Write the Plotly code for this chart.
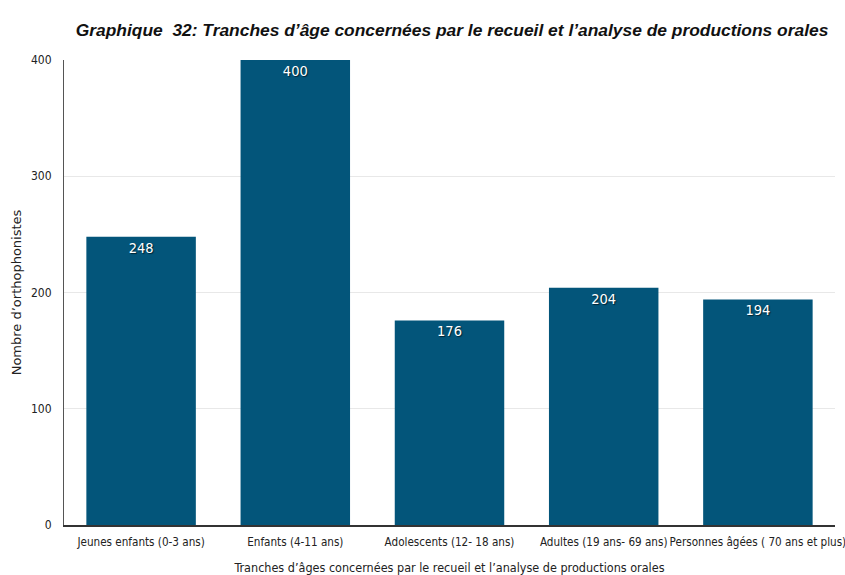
import plotly.graph_objects as go

categories = [
    "Jeunes enfants (0-3 ans)",
    "Enfants (4-11 ans)",
    "Adolescents (12- 18 ans)",
    "Adultes (19 ans- 69 ans)",
    "Personnes âgées ( 70 ans et plus)",
]
values = [248, 400, 176, 204, 194]
y_ticks = [0, 100, 200, 300, 400]

BAR = "#03557a"
FONT = "DejaVu Sans Condensed, Liberation Sans Narrow, Arial Narrow, Liberation Sans, sans-serif"
TITLE_FONT = "Liberation Sans, Arial, sans-serif"

fig = go.Figure(
    go.Bar(
        x=categories,
        y=values,
        marker=dict(color=BAR, line=dict(width=0)),
        text=[str(v) for v in values],
        textposition="inside",
        insidetextanchor="end",
        textfont=dict(color="white", size=14.5, family=FONT,
                      shadow="1px 1px 1px rgba(0,0,0,0.6)"),
        cliponaxis=False,
    )
)

fig.update_layout(
    width=845,
    height=575,
    margin=dict(l=64, r=10, t=60, b=50),
    paper_bgcolor="white",
    plot_bgcolor="white",
    bargap=0.29,
    showlegend=False,
    font=dict(family=FONT, color="#222222"),
    title=dict(
        text="<b><i>Graphique  32: Tranches d’âge concernées par le recueil et l’analyse de productions orales</i></b>",
        x=0.535,
        xanchor="center",
        y=0.948,
        yanchor="middle",
        font=dict(size=17.4, family=TITLE_FONT, color="#111111"),
    ),
    xaxis=dict(
        title=dict(
            text="Tranches d’âges concernées par le recueil et l’analyse de productions orales",
            font=dict(size=12.5, family=FONT, color="#222222"),
            standoff=18,
        ),
        tickfont=dict(size=11.6, family=FONT, color="#222222"),
        ticklabelstandoff=5,
        tickangle=0,
        automargin=False,
        showline=True,
        linecolor="#333333",
        linewidth=1.5,
        ticks="",
        showgrid=False,
    ),
    yaxis=dict(
        title=dict(
            text="Nombre d’orthophonistes",
            font=dict(size=13, family="DejaVu Sans, sans-serif", color="#222222"),
            standoff=6,
        ),
        range=[0, 400],
        tickvals=y_ticks,
        tickfont=dict(size=12, family=FONT, color="#222222"),
        ticklabelstandoff=9,
        showline=True,
        linecolor="#555555",
        linewidth=1.2,
        gridcolor="#e8e8e8",
        gridwidth=1,
        zeroline=False,
        ticks="",
        automargin=False,
    ),
)

fig.write_html("out.html")
